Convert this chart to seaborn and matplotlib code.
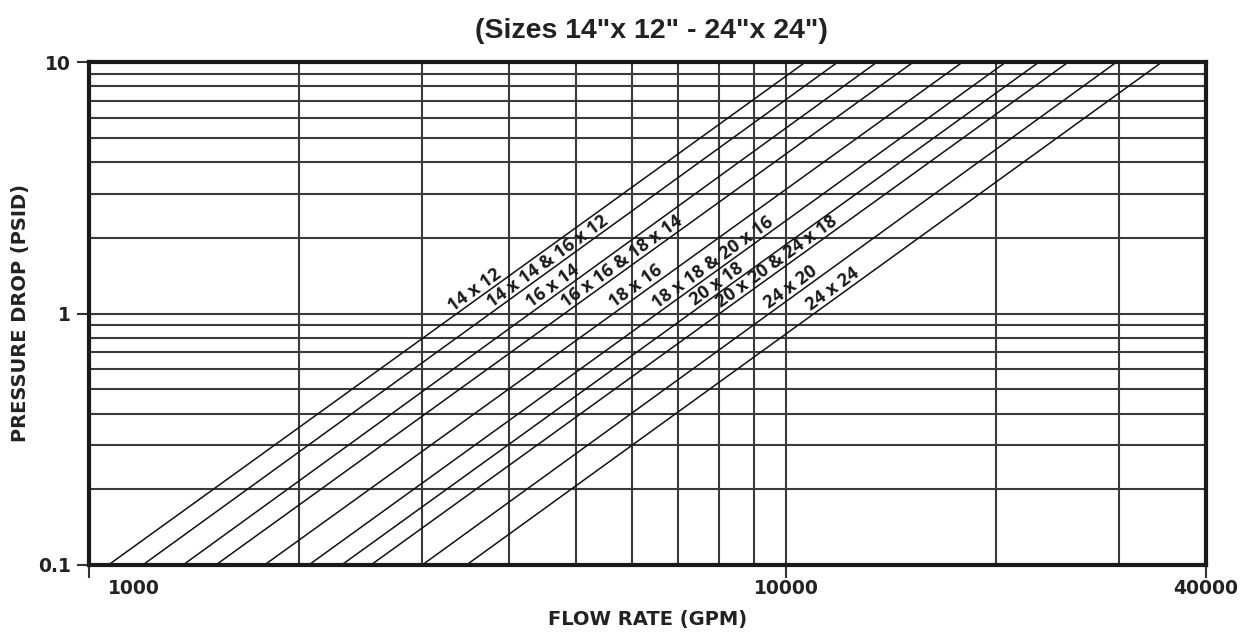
import numpy as np
import pandas as pd
import matplotlib
matplotlib.use("Agg")
import matplotlib.pyplot as plt
import matplotlib.transforms as mtransforms
import seaborn as sns

# ---- data ----
sizes = ["14 x 12", "14 x 14 & 16 x 12", "16 x 14", "16 x 16 & 18 x 14", "18 x 16",
         "18 x 18 & 20 x 16", "20 x 18", "20 x 20 & 24 x 18", "24 x 20", "24 x 24"]
flow_at_01psid = [1066, 1194, 1364, 1520, 1785, 2066, 2303, 2537, 3005, 3478]
flow_at_10psid = [10660, 11860, 13500, 15220, 17910, 20660, 23050, 25390, 29780, 34590]
label_psid = [1.16, 1.51, 1.20, 1.51, 1.20, 1.49, 1.23, 1.51, 1.19, 1.17]

x_ticks = [1000, 10000, 40000]
x_ticklabels = ["1000", "10000", "40000"]
y_ticks = [0.1, 1, 10]
y_ticklabels = ["0.1", "1", "10"]
x_grid = [2000, 3000, 4000, 5000, 6000, 7000, 8000, 9000, 10000, 20000, 30000]
y_grid = [0.2, 0.3, 0.4, 0.5, 0.6, 0.7, 0.8, 0.9, 1, 2, 3, 4, 5, 6, 7, 8, 9]

title = "(Sizes 14\"x 12\" - 24\"x 24\")"
xlabel = "FLOW RATE (GPM)"
ylabel = "PRESSURE DROP (PSID)"

rows = []
for s, q0, q1 in zip(sizes, flow_at_01psid, flow_at_10psid):
    rows.append({"size": s, "flow": q0, "psid": 0.1})
    rows.append({"size": s, "flow": q1, "psid": 10})
df = pd.DataFrame(rows)

sns.set_style("white")
plt.rcParams["font.family"] = ["DejaVu Sans"]

fig = plt.figure(figsize=(12.46, 6.36), dpi=100)
ax = fig.add_axes([89 / 1246, 1 - 565 / 636, (1206 - 89) / 1246, (565 - 62) / 636])
ax.set_xscale("log")
ax.set_yscale("log")
ax.set_xlim(1000, 40000)
ax.set_ylim(0.1, 10)

gcol = "#3a3a3a"
for xv in x_grid:
    ax.axvline(xv, color=gcol, lw=1.5, zorder=1)
for yv in y_grid:
    ax.axhline(yv, color=gcol, lw=1.5, zorder=1)

sns.lineplot(data=df, x="flow", y="psid", hue="size", palette=["#111111"] * len(sizes),
             estimator=None, legend=False, lw=1.1, ax=ax, zorder=3)

ax.set_xticks(x_ticks)
ax.set_xticklabels(x_ticklabels)
ax.set_yticks(y_ticks)
ax.set_yticklabels(y_ticklabels)
ax.xaxis.set_minor_locator(matplotlib.ticker.NullLocator())
ax.yaxis.set_minor_locator(matplotlib.ticker.NullLocator())
ax.tick_params(axis="both", which="major", length=9, width=1.5, color="#333333",
               direction="out", labelsize=13.5, pad=4, bottom=True, left=True)
ax.tick_params(axis="x", pad=1)
for lab in ax.get_xticklabels() + ax.get_yticklabels():
    lab.set_fontweight("bold")
    lab.set_color("#222222")
first = ax.get_xticklabels()[0]
first.set_horizontalalignment("left")
first.set_transform(first.get_transform() + mtransforms.ScaledTranslation(19 / 100, 0, fig.dpi_scale_trans))

for sp in ax.spines.values():
    sp.set_visible(True)
    sp.set_color("#1a1a1a")
    sp.set_linewidth(3)
    sp.set_zorder(5)

ax.set_xlabel(xlabel, fontsize=14, fontweight="bold", color="#222222", labelpad=9)
ax.set_ylabel(ylabel, fontsize=14, fontweight="bold", color="#222222", labelpad=6)
fig.text(0.523, 0.952, title, ha="center", va="center", fontsize=20.5, fontweight="bold",
         color="#222222", family=["Liberation Sans Narrow", "Liberation Sans", "DejaVu Sans"])

# labels along lines
fig.canvas.draw()
d = 6.3
for s, q0, q1, pl in zip(sizes, flow_at_01psid, flow_at_10psid, label_psid):
    p0 = ax.transData.transform((q0, 0.1))
    p1 = ax.transData.transform((q1, 10))
    ang = np.degrees(np.arctan2(p1[1] - p0[1], p1[0] - p0[0]))
    t = (np.log10(pl) - np.log10(0.1)) / (np.log10(10) - np.log10(0.1))
    qx = 10 ** (np.log10(q0) + t * (np.log10(q1) - np.log10(q0)))
    a = np.radians(ang)
    ax.annotate(s, xy=(qx, pl), xytext=(-np.sin(a) * d, np.cos(a) * d),
                textcoords="offset points", rotation=ang, rotation_mode="anchor",
                ha="center", va="center", fontsize=13, fontweight="bold",
                color="#1a1a1a", zorder=4, family=["Open Sans", "DejaVu Sans"])

fig.savefig("out.png", dpi=100)
